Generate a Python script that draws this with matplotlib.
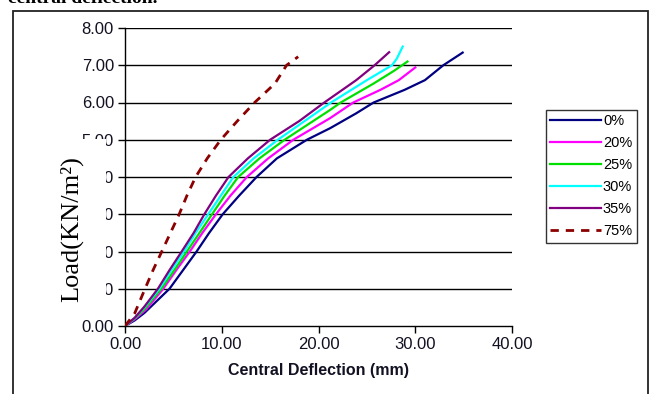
import matplotlib
matplotlib.use("Agg")
import matplotlib.pyplot as plt
from matplotlib.patches import Rectangle
from matplotlib.lines import Line2D

# Load vs. central deflection for each replacement level
series_labels = ["0%", "20%", "25%", "30%", "35%", "75%"]
series_colors = ["#000080", "#FF00FF", "#00E000", "#00FFFF", "#800080", "#8B0000"]

defl_0 = [0, 1.0, 2.0, 3.2, 4.6, 6.0, 7.4, 8.7, 10.1, 11.8, 13.6, 15.7, 18.8,
          21.2, 23.9, 25.7, 28.9, 31.0, 32.9, 34.9]
load_0 = [0, 0.15, 0.35, 0.65, 1.0, 1.5, 2.0, 2.5, 3.0, 3.5, 4.0, 4.5, 5.0,
          5.31, 5.71, 6.0, 6.34, 6.6, 7.0, 7.34]

defl_20 = [0, 1.0, 2.2, 3.96, 5.3, 6.7, 8.0, 9.4, 10.9, 12.6, 14.8, 17.4,
           21.2, 23.6, 26.4, 28.3, 30.0]
load_20 = [0, 0.18, 0.45, 1.0, 1.5, 2.0, 2.5, 3.0, 3.5, 4.0, 4.5, 5.0,
           5.58, 6.0, 6.34, 6.6, 6.94]

defl_25 = [0, 1.0, 2.0, 3.75, 5.1, 6.4, 7.7, 9.0, 10.3, 11.7, 13.9, 16.5,
           21.2, 22.3, 25.7, 27.8, 29.2]
load_25 = [0, 0.2, 0.45, 1.0, 1.5, 2.0, 2.5, 3.0, 3.5, 4.0, 4.5, 5.0,
           5.80, 6.0, 6.51, 6.85, 7.10]

defl_30 = [0, 1.0, 2.0, 3.55, 4.8, 6.1, 7.3, 8.6, 9.9, 11.2, 13.3, 15.8,
           21.3, 25.0, 27.6, 28.1, 28.7]
load_30 = [0, 0.22, 0.5, 1.0, 1.5, 2.0, 2.5, 3.0, 3.5, 4.0, 4.5, 5.0,
           6.0, 6.6, 7.0, 7.18, 7.50]

defl_35 = [0, 1.0, 2.0, 3.4, 4.6, 5.86, 7.1, 8.2, 9.4, 10.7, 12.7, 15.0,
           18.0, 20.6, 23.9, 25.8, 27.3]
load_35 = [0, 0.22, 0.52, 1.0, 1.5, 2.0, 2.5, 3.0, 3.5, 4.0, 4.5, 5.0,
           5.5, 6.0, 6.6, 7.0, 7.35]

defl_75 = [0, 1.0, 2.07, 2.9, 3.8, 4.7, 5.6, 6.4, 7.3, 8.5, 9.9, 11.6,
           13.4, 15.5, 16.7, 17.9]
load_75 = [0, 0.34, 1.0, 1.5, 2.0, 2.5, 3.0, 3.5, 4.0, 4.5, 5.0, 5.5,
           6.0, 6.51, 7.0, 7.23]

x_ticks = [0, 10, 20, 30, 40]
y_ticks = [0, 1, 2, 3, 4, 5, 6, 7, 8]

deflections = [defl_0, defl_20, defl_25, defl_30, defl_35, defl_75]
loads = [load_0, load_20, load_25, load_30, load_35, load_75]
styles = ["-", "-", "-", "-", "-", (0, (3, 2.5))]

plt.rcParams["font.family"] = ["Liberation Sans", "DejaVu Sans"]

W, H = 651, 394
fig = plt.figure(figsize=(W / 100, H / 100), dpi=100)
fig.patch.set_facecolor("white")

ax = fig.add_axes([125 / W, 1 - 326 / H, (512 - 125) / W, (326 - 28) / H])

for xs, ys, col, ls, lab in zip(deflections, loads, series_colors, styles, series_labels):
    ax.plot(xs, ys, color=col, lw=1.6 if ls == "-" else 2.0, ls=ls, label=lab,
            solid_joinstyle="round", zorder=3)

ax.set_xlim(0, 40)
ax.set_ylim(0, 8)
ax.set_xticks(x_ticks)
ax.set_yticks(y_ticks)
ax.set_xticklabels([f"{v:.2f}" for v in x_ticks])
ax.set_yticklabels([f"{v:.2f}" for v in y_ticks])
ax.tick_params(axis="both", direction="out", length=5, width=1.0, color="black",
               labelsize=12, labelcolor="#111122", pad=3)
for y in y_ticks[1:]:
    ax.axhline(y, color="black", lw=1.0, zorder=1)
ax.spines["top"].set_visible(False)
ax.spines["right"].set_visible(False)
for s in ("left", "bottom"):
    ax.spines[s].set_linewidth(1.0)
    ax.spines[s].set_color("black")
ax.set_xlabel("Central Deflection (mm)", fontsize=11.5, fontweight="bold",
              color="#111122", labelpad=8)

# white panel behind the vertical axis title
fig.patches.append(Rectangle((45 / W, 1 - 300 / H), (106 - 45) / W, (300 - 139) / H,
                             transform=fig.transFigure, facecolor="white",
                             edgecolor="none", zorder=1))
fig.text(72 / W, 1 - 229 / H, "Load(KN/m²)", rotation=90, ha="center", va="center",
         fontsize=19, family="Liberation Serif", color="black", zorder=3)

# legend
handles = [Line2D([], [], color=c, lw=1.6 if ls == "-" else 2.0, ls=ls)
           for c, ls in zip(series_colors, styles)]
leg = fig.legend(handles, series_labels, loc="upper left",
                 bbox_to_anchor=(546 / W, 1 - 110 / H), frameon=True, fancybox=False,
                 edgecolor="black", fontsize=10.5, handlelength=3.5, handletextpad=0.1,
                 labelspacing=0.55, borderpad=0.3, borderaxespad=0)
leg.get_frame().set_linewidth(1.0)

# outer frame of the figure panel
fig.patches.append(Rectangle((13 / W, -0.05), (648 - 13) / W, 1.05 - 11 / H,
                             transform=fig.transFigure, facecolor="none",
                             edgecolor="#222222", lw=1.3, zorder=0))

# caption line running off the top edge
fig.text(8 / W, 1 - 3 / H, "central deflection.", ha="left", va="baseline",
         fontsize=14, fontweight="bold", family="Liberation Serif", color="black")

fig.savefig("out.png", dpi=100, facecolor="white")
